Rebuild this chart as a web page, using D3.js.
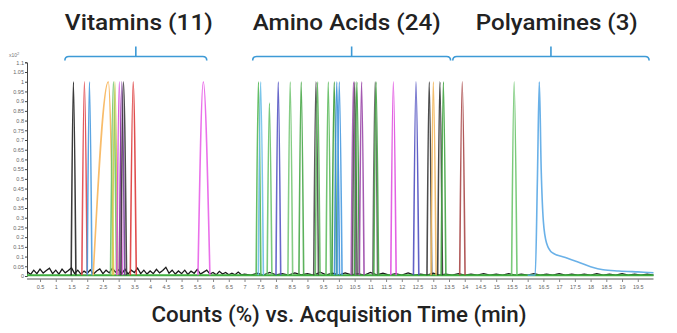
<!DOCTYPE html>
<html><head><meta charset="utf-8">
<script src="https://cdn.jsdelivr.net/npm/d3@7"></script>
<style>
html,body{margin:0;padding:0;background:#fff;}
svg{display:block;font-family:Roboto,"Open Sans",sans-serif;}
</style></head>
<body><svg id="c" width="677" height="333"></svg>
<script>
// ---- data ----
const groupNames = ["Vitamins (11)", "Amino Acids (24)", "Polyamines (3)"];
const groupStart = [1.29, 7.26, 13.62];
const groupEnd   = [5.80, 13.55, 19.86];

// peaks: apex time (min), relative height (x10^2 counts), left/right base half-width (min)
const vitaminTimes   = [1.56, 1.91, 2.07, 2.67, 2.83, 2.88, 3.02, 3.10, 3.15, 3.46, 5.69];
const vitaminHeights = [1, 1, 1, 1, 1, 1, 1, 1, 1, 1, 1];
const vitaminLeft    = [0.07, 0.08, 0.07, 0.48, 0.09, 0.08, 0.08, 0.08, 0.08, 0.09, 0.17];
const vitaminRight   = [0.08, 0.09, 0.08, 0.17, 0.1, 0.09, 0.09, 0.09, 0.1, 0.1, 0.21];

const aminoTimes   = [7.44, 7.51, 7.79, 8.07, 8.45, 8.80, 9.27, 9.32, 9.66, 9.85, 9.93, 10.01,
                      10.46, 10.50, 10.57, 10.72, 11.15, 11.18, 11.73, 12.45, 12.87, 13.00, 13.21, 13.32];
const aminoHeights = [1, 1, 0.89, 1, 1, 1, 1, 1, 1, 1, 1, 1,
                      1, 1, 1, 1, 1, 1, 1, 1, 1, 1, 1, 1];
const aminoLeft    = [0.07, 0.07, 0.07, 0.07, 0.07, 0.07, 0.07, 0.07, 0.07, 0.07, 0.07, 0.07,
                      0.07, 0.07, 0.07, 0.07, 0.07, 0.07, 0.08, 0.08, 0.07, 0.07, 0.07, 0.07];
const aminoRight   = [0.08, 0.09, 0.08, 0.08, 0.08, 0.08, 0.08, 0.08, 0.08, 0.08, 0.09, 0.09,
                      0.08, 0.08, 0.08, 0.08, 0.08, 0.08, 0.09, 0.09, 0.08, 0.09, 0.08, 0.08];

const polyTimes   = [13.92, 15.57];
const polyHeights = [1, 1];
const polyLeft    = [0.08, 0.08];
const polyRight   = [0.09, 0.09];
// tailing polyamine peak, read point by point [time, value]
const polyTail = [[16.0,0.004],[16.24,0.005],[16.31,0.5],[16.37,1],[16.43,0.55],[16.5,0.28],[16.6,0.17],
                  [16.78,0.12],[17.2,0.095],[17.6,0.072],[18.0,0.048],[18.4,0.032],[18.9,0.026],
                  [19.5,0.021],[20.0,0.017]];

// baseline noise, 0.0 .. 7.0 min every 0.1 min
const noiseEarly = [0.01,0.022,0.008,0.03,0.012,0.036,0.015,0.028,0.04,0.012,
                    0.03,0.01,0.035,0.016,0.028,0.042,0.012,0.03,0.01,0.025,
                    0.014,0.032,0.01,0.026,0.036,0.012,0.03,0.016,0.04,0.02,
                    0.032,0.012,0.035,0.01,0.03,0.018,0.04,0.012,0.03,0.01,
                    0.026,0.012,0.034,0.016,0.028,0.045,0.014,0.03,0.01,0.026,
                    0.012,0.03,0.008,0.025,0.014,0.034,0.01,0.02,0.03,0.01,
                    0.018,0.006,0.024,0.01,0.018,0.006,0.014,0.006,0.02,0.006,0.01];
// baseline noise, 7.0 .. 20.0 min every 0.2 min
const noiseLate = [0.01,0.004,0.014,0.005,0.018,0.006,0.012,0.004,0.016,0.006,
                   0.012,0.004,0.02,0.006,0.014,0.005,0.016,0.006,0.012,0.004,
                   0.018,0.006,0.014,0.004,0.012,0.005,0.016,0.004,0.01,0.004,
                   0.014,0.005,0.01,0.004,0.012,0.004,0.01,0.005,0.012,0.004,
                   0.01,0.004,0.012,0.005,0.01,0.004,0.012,0.004,0.01,0.004,
                   0.012,0.004,0.01,0.004,0.01,0.004,0.012,0.004,0.01,0.004,
                   0.012,0.004,0.01,0.004,0.01,0.004];

const xTicks = d3.range(0.5, 20, 0.5);
const yTicks = d3.range(0, 1.1001, 0.05);
const xTitle = "Counts (%) vs. Acquisition Time (min)";

// ---- styles ----
const vitaminColors = ["#262626","#e0454a","#4a9be0","#f7b55a","#6cc46c","#c8cc50","#d84ad8","#7a3a9a","#3a3a3a","#dd3b3b","#e860e8"];
const aminoColors   = ["#55b855","#6cbfe8","#6cc46c","#5858c4","#78c878","#4aa84a","#4a4a4a","#5cb85c","#62bc62","#3a9a3a","#3b8fd9","#4a9be0",
                       "#a858b8","#555555","#3aa03a","#9a48a8","#606060","#4aa84a","#e050e0","#5050c0","#3a3a3a","#f2b860","#333333","#45a545"];
const polyColors    = ["#a84848","#6cc46c"];
const tailColor     = "#5aa8e6";
const bracketColor  = "#3d9ad6";
const titleOffset   = [0, 0, 23];
const titleWidth    = [148, 188, 162];

// ---- chart ----
const svg = d3.select("#c");
const x = d3.scaleLinear().domain([0, 20]).range([24.3, 653.5]);
const y = d3.scaleLinear().domain([0, 1.1]).range([276, 62.3]);
const plotLeft = 27;

svg.append("defs").append("clipPath").attr("id","clip")
  .append("rect").attr("x", plotLeft).attr("y", 40).attr("width", 655 - plotLeft).attr("height", 240);

// group titles and brackets
const bY = 56.5;
groupNames.forEach((name, i) => {
  const x0 = x(groupStart[i]), x1 = x(groupEnd[i]), xc = (x0 + x1) / 2;
  svg.append("path")
    .attr("d", `M${x0},${bY+4} Q${x0},${bY} ${x0+4},${bY} L${x1-4},${bY} Q${x1},${bY} ${x1},${bY+4} M${xc},${bY} L${xc},${bY-10}`)
    .attr("fill","none").attr("stroke", bracketColor).attr("stroke-width", 1.6);
  svg.append("text").attr("x", x0 + titleOffset[i]).attr("y", 30)
    .attr("font-size", 22.5).attr("font-weight", 500).attr("fill", "#222")
    .attr("textLength", titleWidth[i]).attr("lengthAdjust", "spacingAndGlyphs").text(name);
});

// axes
const fmt = d => String(+d.toFixed(2));
const gy = svg.append("g").attr("transform", `translate(${plotLeft},0)`)
  .call(d3.axisLeft(y).tickValues(yTicks).tickFormat(fmt).tickSize(2).tickPadding(1));
gy.select(".domain").attr("stroke", "#444").attr("stroke-width", 1);
gy.selectAll(".tick line").attr("stroke", "#444");
gy.selectAll("text").attr("font-size", 5.5).attr("fill", "#666").attr("font-family", "Arial, Liberation Sans, sans-serif");
svg.append("text").attr("x", 9).attr("y", 57).attr("font-size", 5).attr("fill", "#777")
  .attr("font-family","Arial, Liberation Sans, sans-serif")
  .text("x10").append("tspan").attr("dy", -2).attr("font-size", 4).text("2");

const gx = svg.append("g").attr("transform", `translate(0,279)`)
  .call(d3.axisBottom(x).tickValues(xTicks).tickFormat(fmt).tickSize(3).tickPadding(3));
gx.select(".domain").attr("stroke", "#aaa").attr("stroke-width", 2).attr("d", `M${plotLeft},0H${x(20)}`);
gx.selectAll(".tick line").attr("stroke", "#888");
gx.selectAll("text").attr("font-size", 5.5).attr("fill", "#666").attr("font-family", "Arial, Liberation Sans, sans-serif");

svg.append("text").attr("x", 151.5).attr("y", 321.5).attr("font-size", 22).attr("font-weight", 500)
  .attr("fill", "#222").attr("textLength", 375).attr("lengthAdjust", "spacingAndGlyphs").text(xTitle);

const plot = svg.append("g").attr("clip-path", "url(#clip)");
const line = d3.line().x(d => x(d[0])).y(d => y(d[1]));
const curveLine = d3.line().x(d => x(d[0])).y(d => y(d[1])).curve(d3.curveMonotoneX);

// noise trace
const noisePts = noiseEarly.map((v, i) => [i * 0.1, v]).concat(noiseLate.map((v, i) => [7 + i * 0.2, v]));
plot.append("path").attr("d", line(noisePts)).attr("fill","none").attr("stroke","#1a1a1a").attr("stroke-width",1.3);

// green baseline
plot.append("path").attr("d", line([[0, 0.004], [20, 0.004]])).attr("fill","none").attr("stroke","#3fae3f").attr("stroke-width",2);

function drawPeaks(times, heights, left, right, colors) {
  times.forEach((t, i) => {
    const pts = [[t - left[i], 0.004], [t, heights[i]], [t + right[i], 0.004]];
    plot.append("path").attr("d", curveLine(pts)).attr("fill","none")
      .attr("stroke", colors[i]).attr("stroke-width", 1.6).attr("stroke-opacity", 0.9);
  });
}
drawPeaks(vitaminTimes, vitaminHeights, vitaminLeft, vitaminRight, vitaminColors);
drawPeaks(aminoTimes, aminoHeights, aminoLeft, aminoRight, aminoColors);
drawPeaks(polyTimes, polyHeights, polyLeft, polyRight, polyColors);
plot.append("path").attr("d", curveLine(polyTail)).attr("fill","none")
  .attr("stroke", tailColor).attr("stroke-width", 1.6).attr("stroke-opacity", 0.9);
</script></body></html>
